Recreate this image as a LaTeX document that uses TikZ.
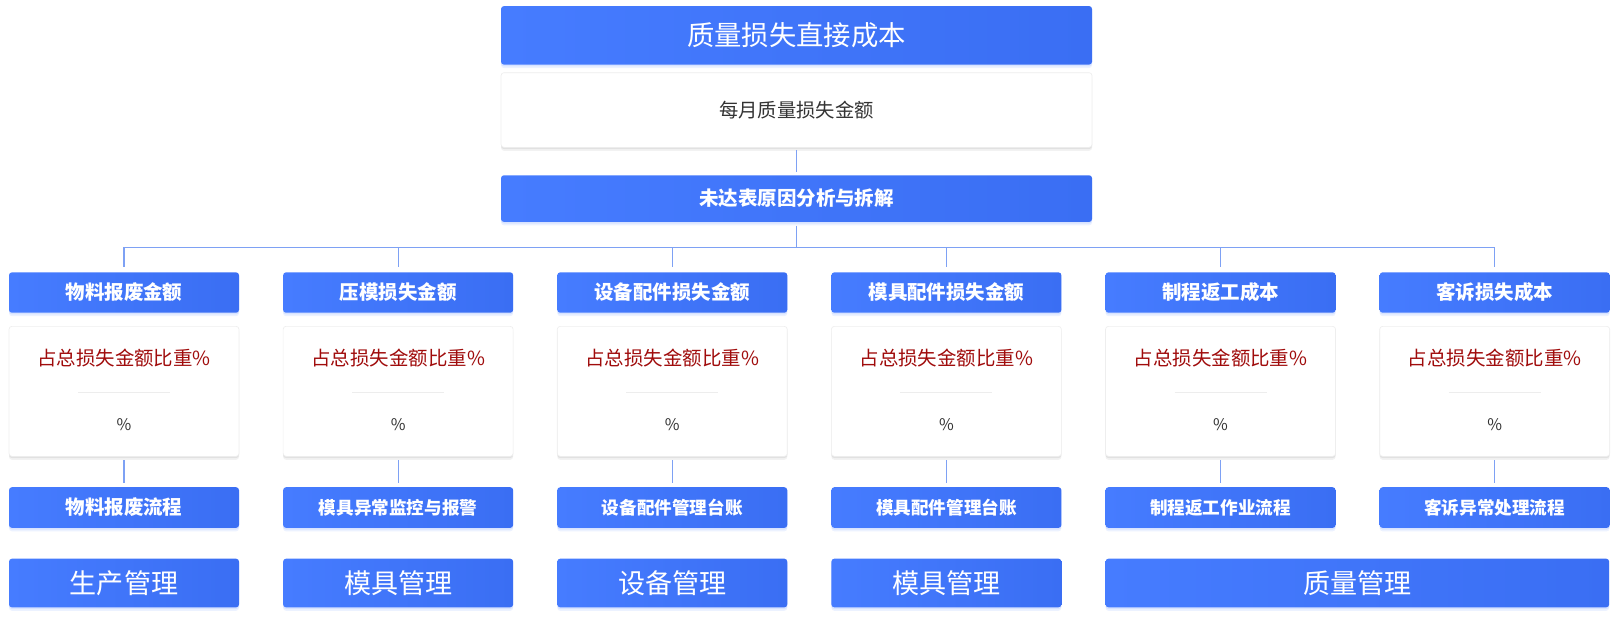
\documentclass[tikz,border=0pt]{standalone}
\usepackage{fontspec}
\setmainfont{Noto Sans CJK SC}
\usepackage{tikz}
\usetikzlibrary{positioning,shadows}

\definecolor{blueL}{HTML}{467CFF}
\definecolor{blueR}{HTML}{3A6EF3}
\definecolor{linkblue}{HTML}{7EA1F4}
\definecolor{lossred}{HTML}{A00C0C}
\definecolor{txtgray}{HTML}{333333}
\definecolor{sepgray}{HTML}{EDEDED}
\definecolor{cardedge}{HTML}{EEEEEE}

\begin{document}
\begin{tikzpicture}[inner sep=0pt, node distance=22.7pt]
    \tikzstyle{bluebox}=[rounded corners=2.2pt, left color=blueL, right color=blueR, text=white,
        general shadow={fill=blueL, opacity=0.10, shadow xshift=0pt, shadow yshift=-2.6pt},
        general shadow={fill=blueL, opacity=0.12, shadow xshift=0pt, shadow yshift=-1.3pt}]
    \tikzstyle{whitecard}=[rounded corners=2.2pt, fill=white, draw=cardedge, line width=0.5pt,
        general shadow={fill=black, opacity=0.05, shadow xshift=0pt, shadow yshift=-2.6pt},
        general shadow={fill=black, opacity=0.07, shadow xshift=0pt, shadow yshift=-1.3pt}]
    \tikzstyle{head}=[bluebox, minimum width=172.5pt, minimum height=30.3pt, font=\bfseries\fontsize{14.6pt}{16pt}\selectfont]
    \tikzstyle{card}=[whitecard, minimum width=172.5pt, minimum height=97.5pt]
    \tikzstyle{flow}=[bluebox, minimum width=172.5pt, minimum height=30.5pt, font=\bfseries\fontsize{13.2pt}{15pt}\selectfont]
    \tikzstyle{dept}=[bluebox, minimum width=172.5pt, minimum height=36.5pt, font=\fontsize{20.3pt}{22pt}\selectfont]
    \tikzstyle{share}=[text=lossred, font=\fontsize{14.6pt}{16pt}\selectfont]
    \tikzstyle{pct}=[text=txtgray, font=\fontsize{12pt}{14pt}\selectfont]
    \tikzstyle{divider}=[draw=sepgray, line width=1.1pt]
    \tikzstyle{link}=[draw=linkblue, line width=0.8pt]

    \useasboundingbox (0,0) rectangle (1212pt,-463.5pt);

    % top of the tree
    \node[bluebox, minimum width=443.25pt, minimum height=43.9pt, font=\fontsize{20.5pt}{22pt}\selectfont]
        (top) at (597.4pt,-26.5pt) {质量损失直接成本};
    \node[whitecard, minimum width=443.25pt, minimum height=56pt, text=txtgray, font=\fontsize{14.5pt}{16pt}\selectfont]
        (month) [below=5.6pt of top] {每月质量损失金额};
    \node[bluebox, minimum width=443.25pt, minimum height=35pt, font=\bfseries\fontsize{14.6pt}{16pt}\selectfont]
        (cause) [below=20.5pt of month] {未达表原因分析与拆解};
    \coordinate[below=18.75pt of cause] (bus);

    % loss items
    \node[head] (h1) at (93pt,-219.4pt) {物料报废金额};
    \node[head] (h2) [right=32.7pt of h1] {压模损失金额};
    \node[head] (h3) [right=32.7pt of h2] {设备配件损失金额};
    \node[head] (h4) [right=32.7pt of h3] {模具配件损失金额};
    \node[head] (h5) [right=32.7pt of h4] {制程返工成本};
    \node[head] (h6) [right=32.7pt of h5] {客诉损失成本};

    % share cards
    \node[card] (c1) [below=9.75pt of h1] {};
    \node[card] (c2) [below=9.75pt of h2] {};
    \node[card] (c3) [below=9.75pt of h3] {};
    \node[card] (c4) [below=9.75pt of h4] {};
    \node[card] (c5) [below=9.75pt of h5] {};
    \node[card] (c6) [below=9.75pt of h6] {};

    % processes
    \node[flow, font=\bfseries\fontsize{14.6pt}{16pt}\selectfont] (f1) [below=22.7pt of c1] {物料报废流程};
    \node[flow] (f2) [below=22.7pt of c2] {模具异常监控与报警};
    \node[flow] (f3) [below=22.7pt of c3] {设备配件管理台账};
    \node[flow] (f4) [below=22.7pt of c4] {模具配件管理台账};
    \node[flow] (f5) [below=22.7pt of c5] {制程返工作业流程};
    \node[flow] (f6) [below=22.7pt of c6] {客诉异常处理流程};

    % departments
    \node[dept] (d1) [below=22.7pt of f1] {生产管理};
    \node[dept] (d2) [below=22.7pt of f2] {模具管理};
    \node[dept] (d3) [below=22.7pt of f3] {设备管理};
    \node[dept] (d4) [below=22.7pt of f4] {模具管理};
    \node[dept, minimum width=377.7pt, anchor=north west] (d5) at ([yshift=-22.7pt]f5.south west) {质量管理};

    % card contents
    \foreach \i in {1,...,6} {
        \node[share] (s\i) at ([yshift=-24pt]c\i.north) {占总损失金额比重\%};
        \node[pct] (v\i) at ([yshift=-73.7pt]c\i.north) {\%};
        \draw[divider] ([xshift=-34.5pt,yshift=-0.75pt]c\i.center) -- ([xshift=34.5pt,yshift=-0.75pt]c\i.center);
    }

    % connectors
    \draw[link, shorten <=1.7pt, shorten >=2.5pt] (month) -- (cause);
    \draw[link, shorten <=2.5pt] (cause) -- (bus);
    \draw[link] (h1.north |- bus) -- (h6.north |- bus);
    \foreach \i in {1,...,6} {
        \draw[link, shorten >=3.5pt] (h\i.north |- bus) -- (h\i);
        \draw[link, shorten <=2.5pt, shorten >=3.2pt] (c\i) -- (f\i);
    }
\end{tikzpicture}
\end{document}
